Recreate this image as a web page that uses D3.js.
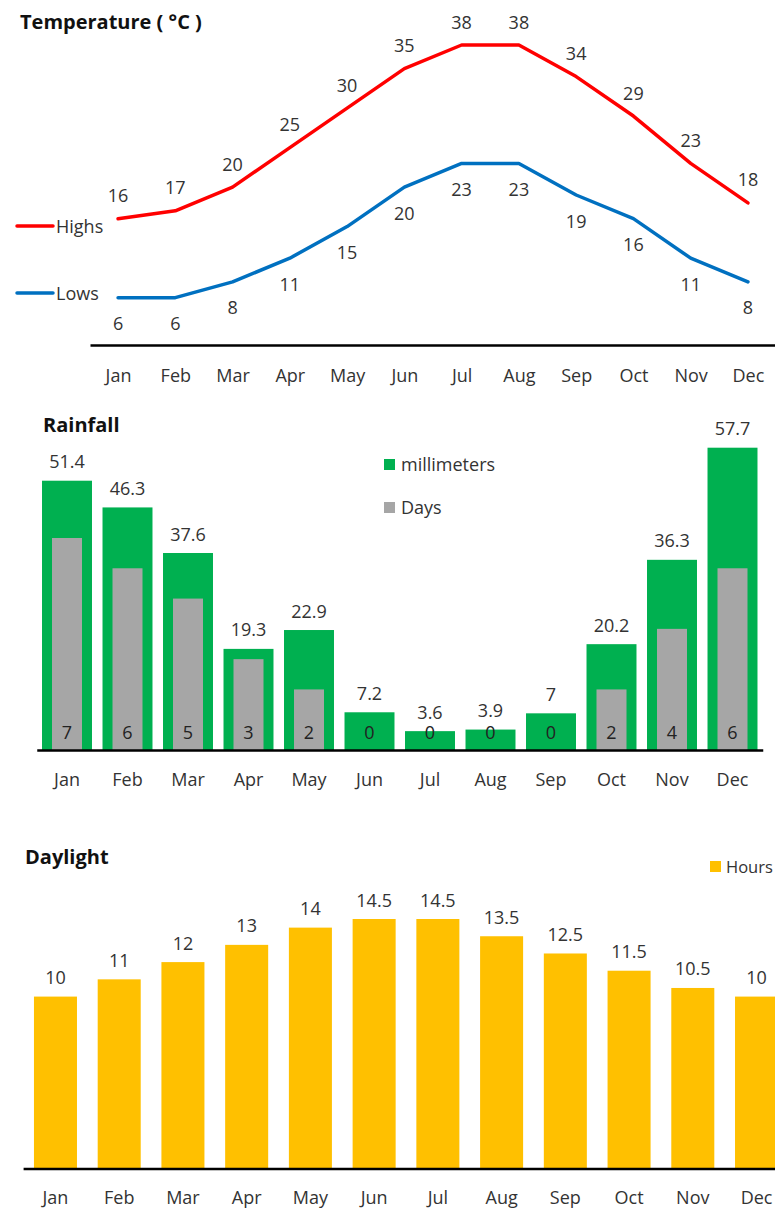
<!DOCTYPE html>
<html>
<head>
<meta charset="utf-8">
<script src="https://cdn.jsdelivr.net/npm/d3@7"></script>
<style>
  html, body { margin: 0; padding: 0; background: #fff; }
  svg { display: block; font-family: "Open Sans", Lato, sans-serif; }
  .lbl { font-size: 18px; fill: #333; }
  .ttl { font-size: 20px; font-weight: bold; fill: #111; }
  .axis text { font-size: 18px; fill: #333; font-family: "Open Sans", Lato, sans-serif; }
  .axis path { stroke: #000; stroke-width: 2.5px; }
</style>
</head>
<body>
<svg id="chart" width="775" height="1209"></svg>
<script>
const months = ["Jan","Feb","Mar","Apr","May","Jun","Jul","Aug","Sep","Oct","Nov","Dec"];
const highs = [16,17,20,25,30,35,38,38,34,29,23,18];
const lows  = [6,6,8,11,15,20,23,23,19,16,11,8];
const rainMm   = [51.4,46.3,37.6,19.3,22.9,7.2,3.6,3.9,7,20.2,36.3,57.7];
const rainDays = [7,6,5,3,2,0,0,0,0,2,4,6];
const daylight = [10,11,12,13,14,14.5,14.5,13.5,12.5,11.5,10.5,10];

const svg = d3.select("#chart");

/* ---------- Temperature ---------- */
const g1 = svg.append("g");
const xT = d3.scalePoint().domain(months).range([90, 776]).padding(0.49);
const yT = d3.scaleLinear().domain([0, 38]).range([345, 45]);

g1.append("text").attr("class","ttl").attr("x",20).attr("y",29).text("Temperature ( °C )");

const line = d3.line().x((d,i)=>xT(months[i])).y(d=>yT(d));
g1.append("path").datum(highs).attr("d", line).attr("fill","none")
  .attr("stroke","#FF0000").attr("stroke-width",3.5).attr("stroke-linejoin","round").attr("stroke-linecap","round");
g1.append("path").datum(lows).attr("d", line).attr("fill","none")
  .attr("stroke","#0070C0").attr("stroke-width",3.5).attr("stroke-linejoin","round").attr("stroke-linecap","round");

g1.selectAll(".hl").data(highs).join("text").attr("class","lbl")
  .attr("text-anchor","middle").attr("x",(d,i)=>xT(months[i])).attr("y",d=>yT(d)-16.5).text(d=>d);
g1.selectAll(".ll").data(lows).join("text").attr("class","lbl")
  .attr("text-anchor","middle").attr("x",(d,i)=>xT(months[i])).attr("y",d=>yT(d)+32.5).text(d=>d);

// legend
[["Highs","#FF0000",226],["Lows","#0070C0",293]].forEach(([t,c,y])=>{
  g1.append("line").attr("x1",17).attr("x2",53).attr("y1",y).attr("y2",y)
    .attr("stroke",c).attr("stroke-width",3.5).attr("stroke-linecap","round");
  g1.append("text").attr("class","lbl").attr("x",56).attr("y",y+6.5).text(t);
});

g1.append("g").attr("class","axis").attr("transform","translate(0,345)")
  .call(d3.axisBottom(xT).tickSize(0).tickSizeOuter(0).tickPadding(24))
  .call(g=>g.selectAll("text").attr("fill","#333"));

/* ---------- Rainfall ---------- */
const g2 = svg.append("g");
const xR = d3.scaleBand().domain(months).range([36.75, 762.75]).paddingInner(0.174).paddingOuter(0.087);
const yMm = d3.scaleLinear().domain([0, 57.7]).range([750, 447.7]);
const yDays = d3.scaleLinear().domain([0, 7]).range([750, 538]);

g2.append("text").attr("class","ttl").attr("x",43).attr("y",432).text("Rainfall");

g2.selectAll(".mm").data(rainMm).join("rect")
  .attr("x",(d,i)=>xR(months[i])).attr("width",xR.bandwidth())
  .attr("y",d=>yMm(d)).attr("height",d=>yMm(0)-yMm(d)).attr("fill","#00B050");

const dayW = 30;
g2.selectAll(".dy").data(rainDays).join("rect")
  .attr("x",(d,i)=>xR(months[i])+xR.bandwidth()/2-dayW/2).attr("width",dayW)
  .attr("y",d=>yDays(d)).attr("height",d=>yDays(0)-yDays(d)).attr("fill","#A6A6A6");

g2.selectAll(".mml").data(rainMm).join("text").attr("class","lbl").attr("text-anchor","middle")
  .attr("x",(d,i)=>xR(months[i])+xR.bandwidth()/2).attr("y",d=>yMm(d)-12.5).text(d=>d);
g2.selectAll(".dyl").data(rainDays).join("text").attr("class","lbl").attr("text-anchor","middle")
  .attr("x",(d,i)=>xR(months[i])+xR.bandwidth()/2).attr("y",739).style("fill","#222").text(d=>d);

[["millimeters","#00B050",459],["Days","#A6A6A6",502]].forEach(([t,c,y])=>{
  g2.append("rect").attr("x",384).attr("y",y).attr("width",11).attr("height",11).attr("fill",c);
  g2.append("text").attr("class","lbl").attr("x",401).attr("y",y+11.5).text(t);
});

g2.append("g").attr("class","axis").attr("transform","translate(0,750)")
  .call(d3.axisBottom(xR).tickSize(0).tickSizeOuter(0).tickPadding(23))
  .call(g=>g.selectAll("text").attr("fill","#333"));

/* ---------- Daylight ---------- */
const g3 = svg.append("g");
const xD = d3.scaleBand().domain(months).range([23.6, 788.4]).paddingInner(0.325).paddingOuter(0.1625);
const yD = d3.scaleLinear().domain([0, 14.5]).range([1169, 919]);

g3.append("text").attr("class","ttl").attr("x",25).attr("y",864).text("Daylight");

g3.selectAll(".db").data(daylight).join("rect")
  .attr("x",(d,i)=>xD(months[i])).attr("width",xD.bandwidth())
  .attr("y",d=>yD(d)).attr("height",d=>yD(0)-yD(d)).attr("fill","#FFC000");

g3.selectAll(".dl").data(daylight).join("text").attr("class","lbl").attr("text-anchor","middle")
  .attr("x",(d,i)=>xD(months[i])+xD.bandwidth()/2).attr("y",d=>yD(d)-12.5).text(d=>d);

g3.append("rect").attr("x",710).attr("y",861).attr("width",11).attr("height",11).attr("fill","#FFC000");
g3.append("text").attr("class","lbl").attr("x",726).attr("y",872.5).style("font-size","16.5px").text("Hours");

g3.append("g").attr("class","axis").attr("transform","translate(0,1169)")
  .call(d3.axisBottom(xD).tickSize(0).tickSizeOuter(0).tickPadding(22))
  .call(g=>g.selectAll("text").attr("fill","#333"))
  .call(g=>g.select(".domain").attr("d","M23.6,0H775"));
</script>
</body>
</html>
